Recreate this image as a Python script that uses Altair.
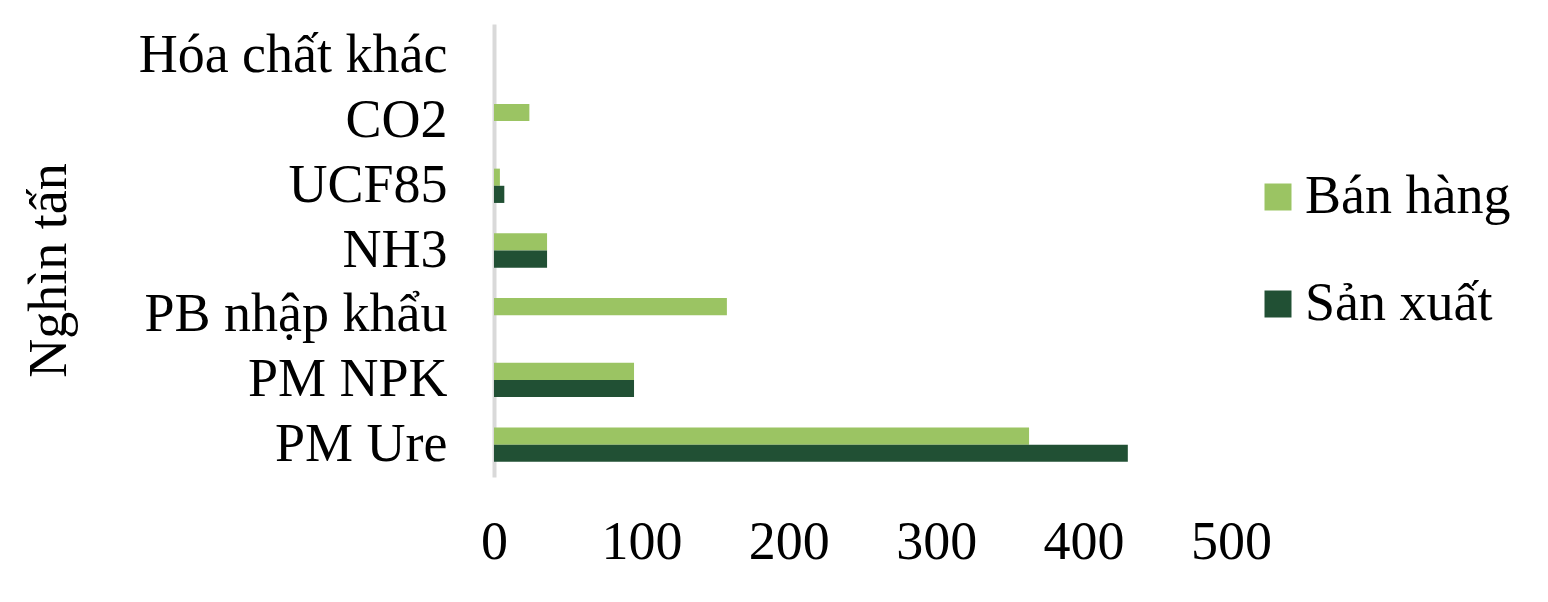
import altair as alt
import pandas as pd

categories = ["Hóa chất khác", "CO2", "UCF85", "NH3", "PB nhập khẩu", "PM NPK", "PM Ure"]
series_names = ["Bán hàng", "Sản xuất"]
ban_hang = [0, 24, 4, 36, 158, 95, 363]
san_xuat = [0, 0, 7, 36, 0, 95, 430]
x_ticks = [0, 100, 200, 300, 400, 500]
colors = ["#9BC463", "#215034"]

rows = []
for c, b, s in zip(categories, ban_hang, san_xuat):
    rows.append({"cat": c, "series": series_names[0], "value": b})
    rows.append({"cat": c, "series": series_names[1], "value": s})
df = pd.DataFrame(rows)

FONT = "Liberation Serif"
FS = 54

chart = alt.Chart(df).mark_bar().encode(
    y=alt.Y(
        "cat:N",
        sort=categories,
        scale=alt.Scale(paddingInner=0.47, paddingOuter=0.235),
        axis=alt.Axis(
            title="Nghìn tấn",
            titleFont=FONT,
            titleFontSize=FS,
            titleFontWeight="normal",
            titleColor="black",
            titleAngle=270,
            titleX=-429,
            titleY=246,
            titleAlign="center",
            titleBaseline="alphabetic",
            labelFont=FONT,
            labelFontSize=FS,
            labelColor="black",
            labelPadding=47,
            labelLimit=600,
            ticks=False,
            tickSize=0,
            domainColor="#D9D9D9",
            domainWidth=4,
            grid=False,
        ),
    ),
    yOffset=alt.YOffset("series:N", sort=series_names),
    x=alt.X(
        "value:Q",
        scale=alt.Scale(domain=[0, 500], nice=False),
        axis=alt.Axis(
            title=None,
            values=x_ticks,
            labelFont=FONT,
            labelFontSize=FS,
            labelColor="black",
            labelBaseline="alphabetic",
            labelPadding=81,
            ticks=False,
            tickSize=0,
            domain=False,
            grid=False,
            labelFlush=False,
        ),
    ),
    color=alt.Color(
        "series:N",
        sort=series_names,
        scale=alt.Scale(domain=series_names, range=colors),
        legend=alt.Legend(
            title=None,
            orient="none",
            legendX=757,
            legendY=146,
            padding=0,
            symbolType="square",
            symbolSize=729,
            symbolStrokeWidth=0,
            labelFont=FONT,
            labelFontSize=FS,
            labelColor="black",
            labelOffset=0,
            rowPadding=53,
            labelLimit=600,
        ),
    ),
).properties(
    width=737,
    height=453,
    autosize=alt.AutoSizeParams(type="none"),
    padding={"left": 486, "top": 16, "right": 300, "bottom": 110},
).configure_view(stroke=None)

chart.save("out.html", embed_options={"renderer": "svg", "actions": False})
